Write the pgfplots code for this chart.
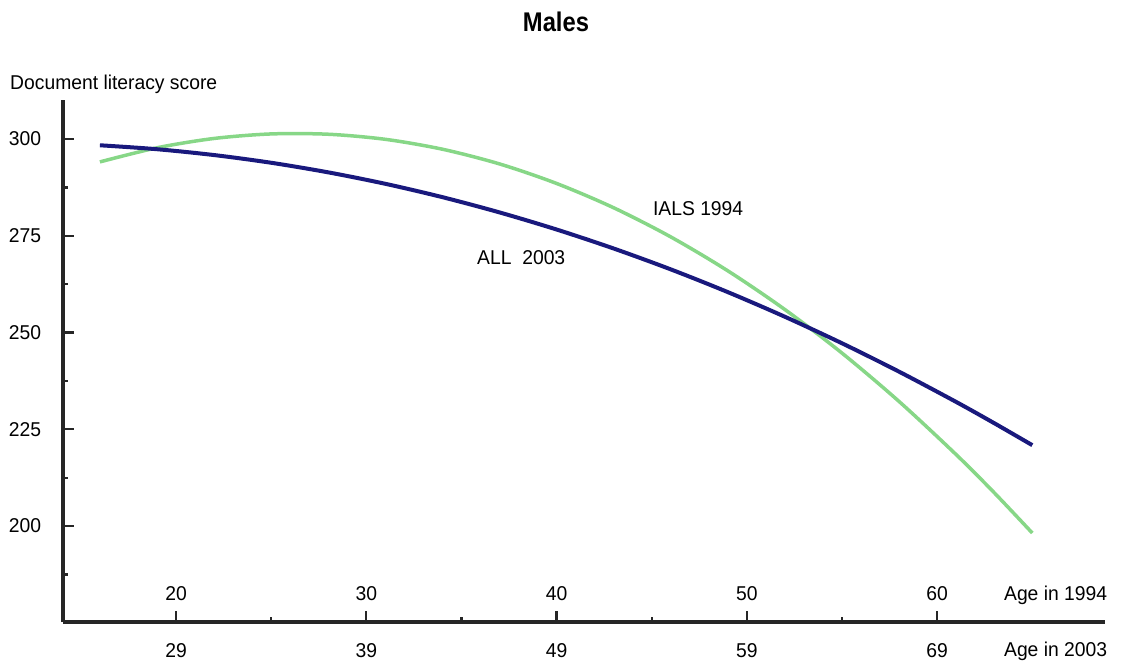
\documentclass[border=0pt]{standalone}
\usepackage{fontspec}
\setmainfont{Liberation Sans}[FakeStretch=0.965]
\newfontfamily\titlefont{Liberation Sans}[FakeStretch=0.88]
\usepackage{pgfplots}
\pgfplotsset{compat=1.18}
\definecolor{allblue}{RGB}{25,25,125}
\definecolor{ialsgreen}{RGB}{135,215,135}
\begin{document}
\fontsize{20}{23}\selectfont
\begin{tikzpicture}[font=\fontsize{20}{23}\selectfont]
\useasboundingbox (-63pt,-40pt) rectangle (1058pt,622pt);
\begin{axis}[
  at={(0pt,0pt)}, anchor=south west,
  scale only axis, width=1042pt, height=522pt,
  xmin=14.06, xmax=68.82, ymin=175.2, ymax=310.1,
  axis x line*=bottom, axis y line*=left,
  axis line style={line width=3.6pt, black!85},
  xtick={20,30,40,50,60}, xticklabels={29,39,49,59,69},
  minor xtick={25,35,45,55},
  ytick={200,225,250,275,300},
  minor ytick={187.5,212.5,237.5,262.5,287.5},
  tick align=inside,
  major tick length=11pt, minor tick length=5pt,
  tick style={line width=2.2pt, black!85},
  yticklabel style={anchor=east, xshift=-15pt},
  xticklabel style={anchor=base, yshift=-35pt},
  /pgf/number format/assume math mode=true,
  clip=false,
]
\addplot[ialsgreen, line width=3.5pt, smooth] coordinates {
 (16,294.10) (19,297.75) (22,300.16) (25,301.33) (28,301.25) (31,299.94)
 (34,297.38) (37,293.58) (40,288.53) (43,282.25) (46,274.72) (49,265.95)
 (52,255.94) (55,244.69) (58,232.19) (61,218.46) (63,208.61) (65,198.20)
};
\addplot[allblue, line width=4pt, smooth] coordinates {
 (16,298.40) (19,297.38) (22,295.87) (25,293.88) (28,291.40) (31,288.44)
 (34,284.99) (37,281.05) (40,276.63) (43,271.72) (46,266.33) (49,260.45)
 (52,254.08) (55,247.23) (58,239.89) (61,232.07) (63,226.58) (65,220.90)
};
\node[anchor=base, inner sep=0pt] at (axis cs:20,180.88) {20};
\node[anchor=base, inner sep=0pt] at (axis cs:30,180.88) {30};
\node[anchor=base, inner sep=0pt] at (axis cs:40,180.88) {40};
\node[anchor=base, inner sep=0pt] at (axis cs:50,180.88) {50};
\node[anchor=base, inner sep=0pt] at (axis cs:60,180.88) {60};
\node[anchor=base west, inner sep=0pt] at (axis cs:63.51,180.88) {Age in 1994};
\node[anchor=base west, inner sep=0pt] at (axis cs:63.51,166.16) {Age in 2003};
\node[anchor=base west, inner sep=0pt] at (axis cs:11.275,312.94) {Document literacy score};
\node[anchor=base, inner sep=0pt] at (axis cs:39.97,327.93) {\titlefont\fontsize{27}{30}\selectfont\bfseries Males};
\node[anchor=base west, inner sep=0pt] at (axis cs:45.06,280.13) {IALS 1994};
\node[anchor=base west, inner sep=0pt] at (axis cs:35.82,267.46) {ALL\ \ 2003};
\end{axis}
\end{tikzpicture}
\end{document}
